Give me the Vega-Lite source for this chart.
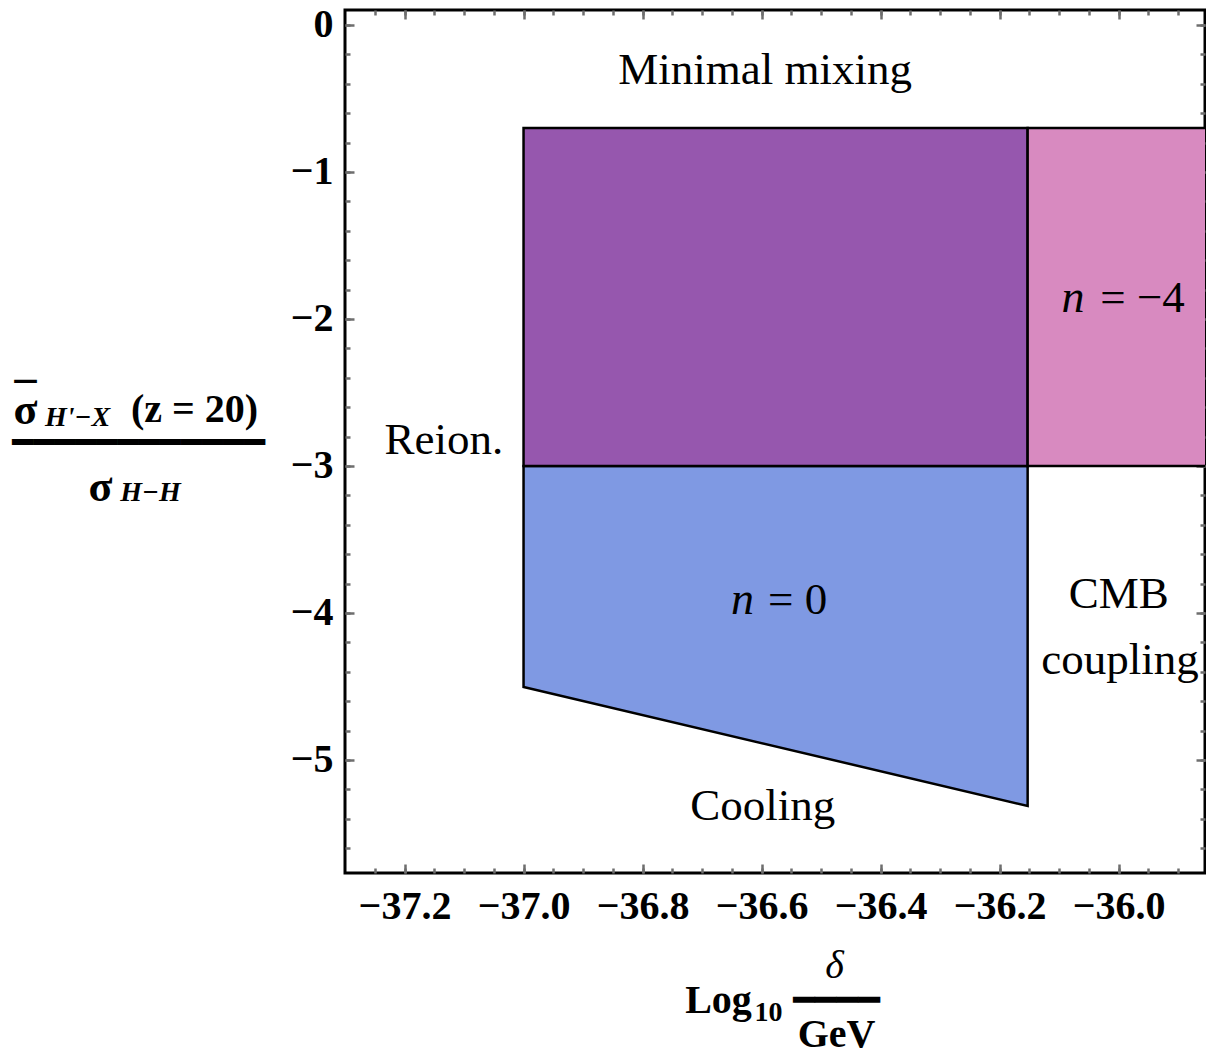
{
  "$schema": "https://vega.github.io/schema/vega-lite/v6.json",
  "width": 860,
  "height": 863,
  "autosize": {"type": "none"},
  "padding": {"left": 345, "top": 10, "right": 1, "bottom": 183},
  "background": "white",
  "config": {
    "view": {"stroke": "black", "strokeWidth": 3},
    "axis": {"grid": false, "domain": false, "titleAngle": 0, "titleAlign": "center", "titleBaseline": "middle", "titleColor": "black", "titleFont": "Liberation Serif", "titleFontWeight": "bold", "titleFontSize": 40, "tickColor": "#6e6e6e", "tickWidth": 2.5, "labelColor": "black"}
  },
  "datasets": {
    "rects": [
      {"region": "mixing", "x": -37.0, "x2": -36.153, "y": -0.7, "y2": -3.0},
      {"region": "n-4", "x": -36.153, "x2": -35.8, "y": -0.7, "y2": -3.0}
    ],
    "trap": [
      {"x": -37.0, "top": -3.0, "bottom": -4.503},
      {"x": -36.153, "top": -3.0, "bottom": -5.313}
    ],
    "labels": [
      {"text": "Minimal mixing", "x": -36.594, "y": -0.306},
      {"text": "Reion.", "x": -37.134, "y": -2.82},
      {"text": "CMB", "x": -36.0, "y": -3.87},
      {"text": "coupling", "x": -35.998, "y": -4.32},
      {"text": "Cooling", "x": -36.598, "y": -5.31},
      {"text": "= 0", "x": -36.5395, "y": -3.91},
      {"text": "= −4", "x": -35.960, "y": -1.86}
    ],
    "italic": [
      {"text": "n", "x": -36.632, "y": -3.91},
      {"text": "n", "x": -36.077, "y": -1.86}
    ],
    "ax": [{"x": -37.0, "y": -3.0}]
  },
  "resolve": {"axis": {"x": "independent", "y": "independent"}},
  "layer": [
    {
      "data": {"name": "trap"},
      "mark": {"type": "area", "fill": "#7F99E3", "stroke": "black", "strokeWidth": 2.5, "clip": true},
      "encoding": {
        "x": {"field": "x", "type": "quantitative", "scale": {"domain": [-37.3, -35.855], "nice": false, "zero": false}, "axis": null},
        "y": {"field": "top", "type": "quantitative", "scale": {"domain": [-5.769, 0.102], "nice": false, "zero": false}, "axis": null},
        "y2": {"field": "bottom"}
      }
    },
    {
      "data": {"name": "rects"},
      "mark": {"type": "rect", "stroke": "black", "strokeWidth": 2.5, "clip": true, "opacity": 1},
      "encoding": {
        "x": {"field": "x", "type": "quantitative", "scale": {"domain": [-37.3, -35.855], "nice": false, "zero": false}, "axis": null},
        "x2": {"field": "x2"},
        "y": {"field": "y", "type": "quantitative", "scale": {"domain": [-5.769, 0.102], "nice": false, "zero": false}, "axis": null},
        "y2": {"field": "y2"},
        "color": {"field": "region", "type": "nominal", "scale": {"domain": ["mixing", "n-4"], "range": ["#9657AE", "#D88AC0"]}, "legend": null}
      }
    },
    {
      "data": {"name": "labels"},
      "mark": {"type": "text", "font": "Liberation Serif", "fontSize": 45, "align": "center", "baseline": "middle", "color": "black"},
      "encoding": {
        "x": {"field": "x", "type": "quantitative", "scale": {"domain": [-37.3, -35.855], "nice": false, "zero": false}, "axis": null},
        "y": {"field": "y", "type": "quantitative", "scale": {"domain": [-5.769, 0.102], "nice": false, "zero": false}, "axis": null},
        "text": {"field": "text"}
      }
    },
    {
      "data": {"name": "italic"},
      "mark": {"type": "text", "font": "Liberation Serif", "fontStyle": "italic", "fontSize": 46, "align": "center", "baseline": "middle", "color": "black"},
      "encoding": {
        "x": {"field": "x", "type": "quantitative", "scale": {"domain": [-37.3, -35.855], "nice": false, "zero": false}, "axis": null},
        "y": {"field": "y", "type": "quantitative", "scale": {"domain": [-5.769, 0.102], "nice": false, "zero": false}, "axis": null},
        "text": {"field": "text"}
      }
    },
    {
      "data": {"name": "ax"},
      "mark": {"type": "point", "opacity": 0},
      "encoding": {
        "x": {"field": "x", "type": "quantitative", "scale": {"domain": [-37.3, -35.855], "nice": false, "zero": false},
          "axis": {"orient": "bottom", "values": [-37.2, -37.0, -36.8, -36.6, -36.4, -36.2, -36.0], "format": ".1f", "ticks": false, "labelFont": "Liberation Serif", "labelFontWeight": "bold", "labelFontSize": 40, "labelPadding": 13, "title": "Log", "titleX": 373, "titleY": 127}},
        "y": {"field": "y", "type": "quantitative", "scale": {"domain": [-5.769, 0.102], "nice": false, "zero": false},
          "axis": {"orient": "left", "values": [0, -1, -2, -3, -4, -5], "format": "d", "ticks": false, "labelFont": "Liberation Serif", "labelFontWeight": "bold", "labelFontSize": 40, "labelPadding": 12, "title": "σ", "titleFontSize": 44, "titleX": -320, "titleY": 400}}
      }
    },
    {
      "data": {"name": "ax"},
      "mark": {"type": "point", "opacity": 0},
      "encoding": {
        "x": {"field": "x", "type": "quantitative", "scale": {"domain": [-37.3, -35.855], "nice": false, "zero": false},
          "axis": {"orient": "bottom", "values": [-37.2, -37.0, -36.8, -36.6, -36.4, -36.2, -36.0], "labels": false, "tickSize": -9, "title": "δ", "titleFontWeight": "normal", "titleFontStyle": "italic", "titleX": 489, "titleY": 92}},
        "y": {"field": "y", "type": "quantitative", "scale": {"domain": [-5.769, 0.102], "nice": false, "zero": false},
          "axis": {"orient": "left", "values": [0, -1, -2, -3, -4, -5], "labels": false, "tickSize": -9, "title": "(z = 20)", "titleX": -151, "titleY": 399}}
      }
    },
    {
      "data": {"name": "ax"},
      "mark": {"type": "point", "opacity": 0},
      "encoding": {
        "x": {"field": "x", "type": "quantitative", "scale": {"domain": [-37.3, -35.855], "nice": false, "zero": false},
          "axis": {"orient": "bottom", "values": [-37.25, -37.2, -37.15, -37.1, -37.05, -37.0, -36.95, -36.9, -36.85, -36.8, -36.75, -36.7, -36.65, -36.6, -36.55, -36.5, -36.45, -36.4, -36.35, -36.3, -36.25, -36.2, -36.15, -36.1, -36.05, -36.0, -35.95, -35.9], "labels": false, "tickSize": -5, "title": "━━━━", "titleFont": "DejaVu Sans", "titleFontWeight": "normal", "titleFontSize": 36, "titleX": 491, "titleY": 127}},
        "y": {"field": "y", "type": "quantitative", "scale": {"domain": [-5.769, 0.102], "nice": false, "zero": false},
          "axis": {"orient": "left", "values": [0, -0.2, -0.4, -0.6, -0.8, -1.0, -1.2, -1.4, -1.6, -1.8, -2.0, -2.2, -2.4, -2.6, -2.8, -3.0, -3.2, -3.4, -3.6, -3.8, -4.0, -4.2, -4.4, -4.6, -4.8, -5.0, -5.2, -5.4, -5.6], "labels": false, "tickSize": -5, "title": "H'−X", "titleFontStyle": "italic", "titleFontSize": 28, "titleX": -268, "titleY": 407}}
      }
    },
    {
      "data": {"name": "ax"},
      "mark": {"type": "point", "opacity": 0},
      "encoding": {
        "x": {"field": "x", "type": "quantitative", "scale": {"domain": [-37.3, -35.855], "nice": false, "zero": false},
          "axis": {"orient": "top", "values": [-37.2, -37.0, -36.8, -36.6, -36.4, -36.2, -36.0], "labels": false, "tickSize": -9, "title": "GeV", "titleX": 491, "titleY": 1024}},
        "y": {"field": "y", "type": "quantitative", "scale": {"domain": [-5.769, 0.102], "nice": false, "zero": false},
          "axis": {"orient": "right", "values": [0, -1, -2, -3, -4, -5], "labels": false, "tickSize": -9, "title": "━━━━━━━━━━━━", "titleFont": "DejaVu Sans", "titleFontWeight": "normal", "titleFontSize": 35, "titleX": -1067, "titleY": 432}}
      }
    },
    {
      "data": {"name": "ax"},
      "mark": {"type": "point", "opacity": 0},
      "encoding": {
        "x": {"field": "x", "type": "quantitative", "scale": {"domain": [-37.3, -35.855], "nice": false, "zero": false},
          "axis": {"orient": "top", "values": [-37.25, -37.2, -37.15, -37.1, -37.05, -37.0, -36.95, -36.9, -36.85, -36.8, -36.75, -36.7, -36.65, -36.6, -36.55, -36.5, -36.45, -36.4, -36.35, -36.3, -36.25, -36.2, -36.15, -36.1, -36.05, -36.0, -35.95, -35.9], "labels": false, "tickSize": -5, "title": "σ", "titleFontSize": 44, "titleX": -245, "titleY": 477}},
        "y": {"field": "y", "type": "quantitative", "scale": {"domain": [-5.769, 0.102], "nice": false, "zero": false},
          "axis": {"orient": "right", "values": [0, -0.2, -0.4, -0.6, -0.8, -1.0, -1.2, -1.4, -1.6, -1.8, -2.0, -2.2, -2.4, -2.6, -2.8, -3.0, -3.2, -3.4, -3.6, -3.8, -4.0, -4.2, -4.4, -4.6, -4.8, -5.0, -5.2, -5.4, -5.6], "labels": false, "tickSize": -5, "title": "H−H", "titleFontStyle": "italic", "titleFontSize": 28, "titleX": -1055, "titleY": 482}}
      }
    },
    {
      "data": {"name": "ax"},
      "mark": {"type": "point", "opacity": 0},
      "encoding": {
        "x": {"field": "x", "type": "quantitative", "scale": {"domain": [-37.3, -35.855], "nice": false, "zero": false},
          "axis": {"orient": "bottom", "values": [-37.0], "labels": false, "ticks": false, "title": "10", "titleFontSize": 28, "titleX": 423, "titleY": 139}},
        "y": {"field": "y", "type": "quantitative", "scale": {"domain": [-5.769, 0.102], "nice": false, "zero": false},
          "axis": {"orient": "left", "values": [-3.0], "labels": false, "ticks": false, "title": "¯", "titleFontSize": 44, "titleX": -320, "titleY": 389}}
      }
    }
  ]
}
